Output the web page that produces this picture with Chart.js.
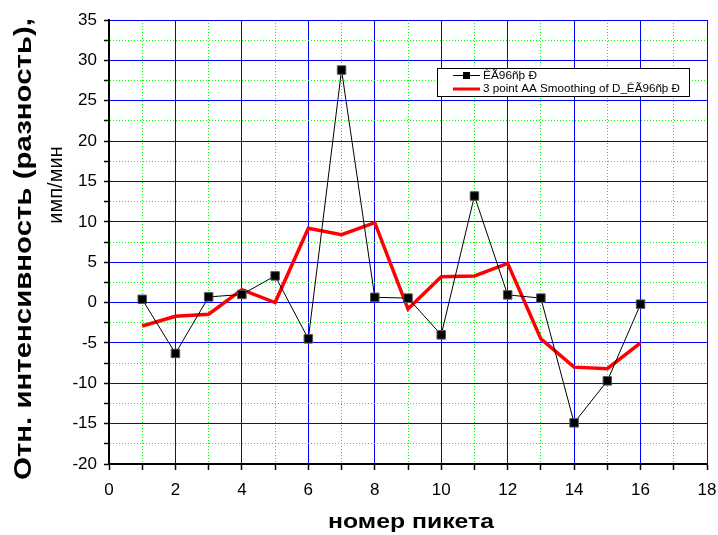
<!DOCTYPE html>
<html>
<head>
<meta charset="utf-8">
<script src="https://cdn.jsdelivr.net/npm/chart.js@4"></script>
<style>
  html, body { margin: 0; padding: 0; background: #fff; }
  #wrap { width: 718px; height: 535px; }
</style>
</head>
<body>
<div id="wrap"><canvas id="chart" width="718" height="535"></canvas></div>
<script>
// данные с графика
const piket = [1, 2, 3, 4, 5, 6, 7, 8, 9, 10, 11, 12, 13, 14, 15, 16];
const raznost = [0.4, -6.3, 0.7, 1.0, 3.3, -4.5, 28.8, 0.65, 0.55, -4.0, 13.2, 0.95, 0.55, -14.9, -9.7, -0.2];
const smooth3 = [-2.9, -1.7, -1.45, 1.6, 0.0, 9.2, 8.4, 9.9, -0.8, 3.2, 3.3, 4.85, -4.5, -8.0, -8.2, -5.0];

const xLabels = ['0', '2', '4', '6', '8', '10', '12', '14', '16', '18'];
const yLabels = ['-20', '-15', '-10', '-5', '0', '5', '10', '15', '20', '25', '30', '35'];

const legendNames = ['ÊÃ96ñþ Ð', '3 point AA Smoothing of D_ÊÃ96ñþ Ð'];
const xTitle = 'номер пикета';
const yTitle1 = 'Отн. интенсивность (разность),';
const yTitle2 = 'имп/мин';

const FONT = '"Liberation Sans", Arial, sans-serif';

// основные линии сетки - синие, промежуточные - зелёные пунктирные
function isMajorX(v) { return Math.abs(v % 2) < 1e-6; }
function isMajorY(v) { return Math.abs(v % 5) < 1e-6; }

// текст, растянутый по ширине (как в оригинале)
function fitText(ctx, text, x, y, width) {
    const w = ctx.measureText(text).width;
    ctx.save();
    ctx.translate(x, y);
    ctx.scale(width / w, 1);
    ctx.fillText(text, 0, 0);
    ctx.restore();
}

const titlesPlugin = {
    id: 'titles',
    afterDraw(chart) {
        const ctx = chart.ctx;
        ctx.save();
        ctx.fillStyle = '#000';
        ctx.textAlign = 'center';
        ctx.textBaseline = 'middle';
        // подпись оси X
        ctx.font = 'bold 21px ' + FONT;
        fitText(ctx, xTitle, 411, 522, 166);
        // подпись оси Y
        ctx.translate(25, 249);
        ctx.rotate(-Math.PI / 2);
        ctx.font = 'bold 23px ' + FONT;
        fitText(ctx, yTitle1, 0, 0, 462);
        ctx.font = '20px ' + FONT;
        ctx.fillText(yTitle2, 64, 31);
        ctx.restore();

        // легенда
        ctx.save();
        const lx = 437, ly = 68, lw = 252, lh = 28;
        ctx.fillStyle = '#fff';
        ctx.fillRect(lx, ly, lw, lh);
        ctx.strokeStyle = '#000';
        ctx.lineWidth = 1;
        ctx.strokeRect(lx + 0.5, ly + 0.5, lw, lh);

        ctx.beginPath();
        ctx.moveTo(453, 75.5);
        ctx.lineTo(480, 75.5);
        ctx.stroke();
        ctx.fillStyle = '#000';
        ctx.fillRect(463, 72, 7, 7);

        ctx.strokeStyle = '#ff0000';
        ctx.lineWidth = 3;
        ctx.beginPath();
        ctx.moveTo(453, 89);
        ctx.lineTo(480, 89);
        ctx.stroke();

        ctx.fillStyle = '#000';
        ctx.font = '11px ' + FONT;
        ctx.textAlign = 'left';
        ctx.textBaseline = 'middle';
        fitText(ctx, legendNames[0], 483, 76, 54);
        fitText(ctx, legendNames[1], 483, 89, 197);
        ctx.restore();
    }
};

const ctx = document.getElementById('chart').getContext('2d');
new Chart(ctx, {
    type: 'line',
    data: {
        datasets: [{
            label: legendNames[0],
            data: piket.map((x, i) => ({ x: x, y: raznost[i] })),
            borderColor: '#000',
            borderWidth: 1,
            pointStyle: 'rect',
            pointRadius: 6,
            pointBackgroundColor: '#000',
            pointBorderColor: '#555',
            pointBorderWidth: 1,
            tension: 0,
            order: 1
        }, {
            label: legendNames[1],
            data: piket.map((x, i) => ({ x: x, y: smooth3[i] })),
            borderColor: '#ff0000',
            borderWidth: 3.5,
            pointRadius: 0,
            tension: 0,
            order: 2
        }]
    },
    options: {
        responsive: false,
        animation: false,
        layout: { padding: { left: 0, right: 11, top: 20, bottom: 0 } },
        plugins: {
            legend: { display: false },
            tooltip: { enabled: false }
        },
        scales: {
            x: {
                type: 'linear',
                min: 0,
                max: 18,
                afterFit(scale) {
                    scale.height = 71;
                    scale.paddingLeft = 0;
                    scale.paddingRight = 0;
                },
                afterBuildTicks(scale) {
                    const t = [];
                    for (let v = 0; v <= 18; v++) t.push({ value: v });
                    scale.ticks = t;
                },
                ticks: {
                    autoSkip: false,
                    maxRotation: 0,
                    padding: 10,
                    color: '#000',
                    font: { family: FONT, size: 17 },
                    callback: (v) => isMajorX(v) ? xLabels[v / 2] : ''
                },
                grid: {
                    color: (c) => isMajorX(c.tick.value) ? '#0000ff' : '#00ff00',
                    lineWidth: 1,
                    tickColor: '#000',
                    tickLength: 6,
                    tickWidth: 1.5
                },
                border: {
                    color: '#000',
                    width: 2,
                    dash: (c) => (c.tick && !isMajorX(c.tick.value)) ? [1, 2] : []
                }
            },
            y: {
                type: 'linear',
                min: -20,
                max: 35,
                afterFit(scale) {
                    scale.width = 109;
                    scale.paddingTop = 0;
                    scale.paddingBottom = 0;
                },
                afterBuildTicks(scale) {
                    const t = [];
                    for (let v = -20; v <= 35; v += 2.5) t.push({ value: v });
                    scale.ticks = t;
                },
                ticks: {
                    autoSkip: false,
                    padding: 7,
                    color: '#000',
                    font: { family: FONT, size: 17 },
                    callback: (v) => isMajorY(v) ? yLabels[(v + 20) / 5] : ''
                },
                grid: {
                    color: (c) => isMajorY(c.tick.value) ? '#0000ff' : '#00ff00',
                    lineWidth: 1,
                    tickColor: '#000',
                    tickLength: 5,
                    tickWidth: 1.5
                },
                border: {
                    color: '#000',
                    width: 2,
                    dash: (c) => (c.tick && !isMajorY(c.tick.value)) ? [1, 2] : []
                }
            }
        }
    },
    plugins: [titlesPlugin]
});
</script>
</body>
</html>
